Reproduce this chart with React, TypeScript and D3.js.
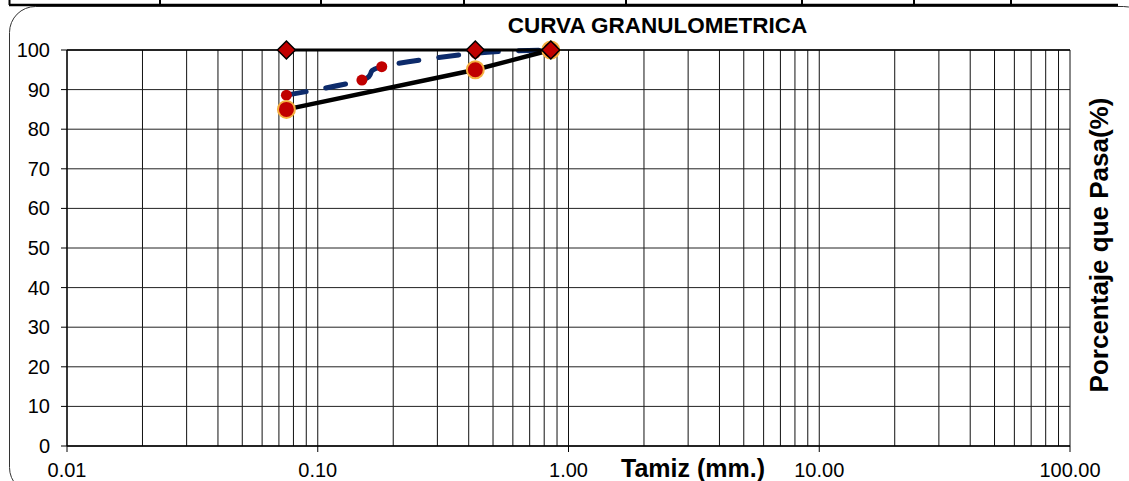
import React from "react";
import * as d3 from "d3";

// Sieve openings (mm) and percent passing
const sieveSizes = [0.075, 0.425, 0.85];
const passingSample = [85, 95, 100];
const upperLimit = [100, 100, 100];
const fineSizes = [0.075, 0.15, 0.18, 0.425, 0.85];
const finePassing = [88.6, 92.4, 95.8, 99.2, 100];

const xTickValues = [0.01, 0.1, 1, 10, 100];
const yTickValues = [0, 10, 20, 30, 40, 50, 60, 70, 80, 90, 100];
const tableColumns = [9.5, 160, 321, 464, 626, 802, 914, 1011];

const W = 1129;
const H = 481;
const FONT = "'Liberation Sans', Arial, Helvetica, sans-serif";

export default function App() {
  const x = d3.scaleLog().domain([0.01, 100]).range([67, 1070]);
  const y = d3.scaleLinear().domain([0, 100]).range([446, 50]);

  // grid lines at 1..9 x 10^k
  const gridX: number[] = [];
  for (let e = -2; e < 2; e++) {
    for (let m = 1; m <= 9; m++) gridX.push(m * Math.pow(10, e));
  }
  gridX.push(100);

  const straight = d3
    .line<[number, number]>()
    .x((d) => x(d[0]))
    .y((d) => y(d[1]));
  const smooth = d3
    .line<[number, number]>()
    .x((d) => x(d[0]))
    .y((d) => y(d[1]))
    .curve(d3.curveCardinal.tension(0));

  const samplePts = sieveSizes.map((s, i) => [s, passingSample[i]] as [number, number]);
  const limitPts = sieveSizes.map((s, i) => [s, upperLimit[i]] as [number, number]);
  const finePts = fineSizes.map((s, i) => [s, finePassing[i]] as [number, number]);

  const fmt = d3.format(".2f");
  const red = "#c00000";

  return (
    <svg
      width={W}
      height={H}
      style={{ position: "absolute", left: 0, top: 0, background: "#fff" }}
      fontFamily={FONT}
    >
      {/* rounded chart frame */}
      <rect x={9.5} y={6.5} width={1140} height={487} rx={26} ry={26} fill="none" stroke="#333" strokeWidth={1} />

      {/* header table edge */}
      {tableColumns.map((cx, i) => (
        <line key={"tc" + i} x1={cx} x2={cx} y1={0} y2={5} stroke="#000" strokeWidth={2} />
      ))}
      <line x1={9} x2={1118} y1={5} y2={5} stroke="#000" strokeWidth={2.5} />

      {/* grid */}
      {gridX.map((v, i) => (
        <line key={"gx" + i} x1={x(v)} x2={x(v)} y1={y(100)} y2={y(0)} stroke="#111" strokeWidth={1} />
      ))}
      {yTickValues.map((v) => (
        <line key={"gy" + v} x1={x(0.01)} x2={x(100)} y1={y(v)} y2={y(v)} stroke="#222" strokeWidth={1} />
      ))}

      {/* axes */}
      <line x1={x(0.01)} x2={x(100)} y1={y(0)} y2={y(0)} stroke="#000" strokeWidth={1.5} />
      <line x1={x(0.01)} x2={x(100)} y1={y(100)} y2={y(100)} stroke="#000" strokeWidth={1.3} />
      <line x1={x(0.01)} x2={x(0.01)} y1={y(0)} y2={y(100)} stroke="#000" strokeWidth={1.2} />
      {yTickValues.map((v) => (
        <g key={"yt" + v}>
          <line x1={x(0.01) - 6} x2={x(0.01)} y1={y(v)} y2={y(v)} stroke="#000" strokeWidth={1} />
          <text x={50} y={y(v) + 7} textAnchor="end" fontSize={20} fill="#000">
            {v}
          </text>
        </g>
      ))}
      {xTickValues.map((v) => (
        <g key={"xt" + v}>
          <line x1={x(v)} x2={x(v)} y1={y(0)} y2={y(0) + 6} stroke="#000" strokeWidth={1} />
          <text x={x(v)} y={477} textAnchor="middle" fontSize={20} fill="#000">
            {fmt(v)}
          </text>
        </g>
      ))}

      {/* fine fraction curve */}
      <path
        d={smooth(finePts) || ""}
        fill="none"
        stroke="#0d2b6b"
        strokeWidth={5}
        strokeDasharray="20 20"
        strokeLinecap="round"
      />
      {finePts.map((p, i) => (
        <circle key={"fp" + i} cx={x(p[0])} cy={y(p[1])} r={5.5} fill={red} />
      ))}

      {/* sample curve */}
      <path d={straight(samplePts) || ""} fill="none" stroke="#000" strokeWidth={4.5} />
      {samplePts.map((p, i) => (
        <circle key={"sp" + i} cx={x(p[0])} cy={y(p[1])} r={8.5} fill={red} stroke="#f5b041" strokeWidth={2} />
      ))}

      {/* upper limit */}
      <path d={straight(limitPts) || ""} fill="none" stroke="#000" strokeWidth={3} />
      {limitPts.map((p, i) => {
        const cx = x(p[0]);
        const cy = y(p[1]);
        const r = 9;
        return (
          <path
            key={"lp" + i}
            d={`M${cx},${cy - r}L${cx + r},${cy}L${cx},${cy + r}L${cx - r},${cy}Z`}
            fill={red}
            stroke="#000"
            strokeWidth={1.5}
          />
        );
      })}

      {/* titles */}
      <text x={657.5} y={33} textAnchor="middle" fontSize={22.5} fontWeight="bold" fill="#000">
        CURVA GRANULOMETRICA
      </text>
      <text x={693} y={477} textAnchor="middle" fontSize={25} fontWeight="bold" fill="#000">
        Tamiz (mm.)
      </text>
      <text
        transform="translate(1108,245) rotate(-90)"
        textAnchor="middle"
        fontSize={26}
        fontWeight="bold"
        fill="#000"
      >
        Porcentaje que Pasa(%)
      </text>
    </svg>
  );
}
